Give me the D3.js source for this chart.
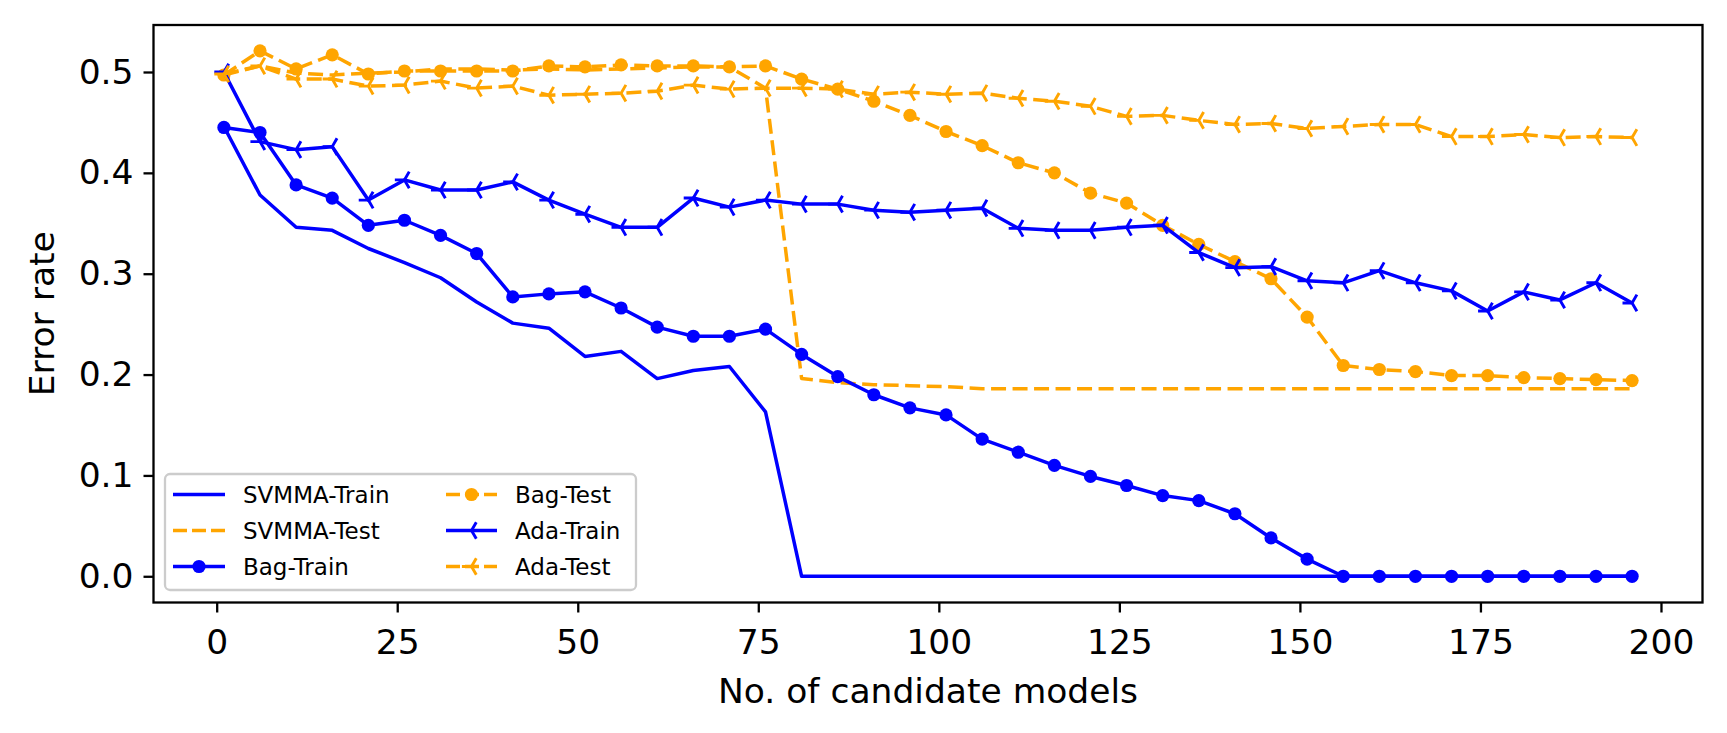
<!DOCTYPE html>
<html>
<head>
<meta charset="utf-8">
<script src="https://cdn.jsdelivr.net/npm/d3@7"></script>
<style>
  html, body { margin: 0; padding: 0; background: #fff; }
  svg text { font-family: "DejaVu Sans", sans-serif; fill: #000; }
</style>
</head>
<body>
<div id="main-chart"></div>
<script>
// number of candidate models
var models = [1, 6, 11, 16, 21, 26, 31, 36, 41, 46, 51, 56, 61, 66, 71, 76, 81, 86, 91, 96,
  101, 106, 111, 116, 121, 126, 131, 136, 141, 146, 151, 156, 161, 166, 171, 176, 181, 186, 191, 196];

var svmmaTrain = [0.446, 0.378, 0.346, 0.343, 0.325, 0.311, 0.296, 0.272, 0.251, 0.246,
  0.218, 0.223, 0.196, 0.204, 0.208, 0.163, 0, 0, 0, 0,
  0, 0, 0, 0, 0, 0, 0, 0, 0, 0,
  0, 0, 0, 0, 0, 0, 0, 0, 0, 0];
var svmmaTest = [0.497, 0.506, 0.499, 0.497, 0.499, 0.500, 0.503, 0.503, 0.502, 0.503,
  0.502, 0.503, 0.504, 0.505, 0.505, 0.484, 0.196, 0.192, 0.190, 0.189,
  0.188, 0.186, 0.186, 0.186, 0.186, 0.186, 0.186, 0.186, 0.186, 0.186,
  0.186, 0.186, 0.186, 0.186, 0.186, 0.186, 0.186, 0.186, 0.186, 0.186];
var bagTrain = [0.445, 0.440, 0.388, 0.375, 0.348, 0.353, 0.338, 0.320, 0.277, 0.280,
  0.282, 0.266, 0.247, 0.238, 0.238, 0.245, 0.220, 0.198, 0.180, 0.167,
  0.160, 0.136, 0.123, 0.110, 0.099, 0.090, 0.080, 0.075, 0.062, 0.038,
  0.017, 0, 0, 0, 0, 0, 0, 0, 0, 0];
var bagTest = [0.497, 0.521, 0.503, 0.517, 0.498, 0.501, 0.501, 0.501, 0.501, 0.506,
  0.505, 0.507, 0.506, 0.506, 0.505, 0.506, 0.493, 0.483, 0.471, 0.457,
  0.441, 0.427, 0.410, 0.400, 0.380, 0.370, 0.348, 0.329, 0.312, 0.295,
  0.257, 0.209, 0.205, 0.203, 0.199, 0.199, 0.197, 0.196, 0.195, 0.194];
var adaTrain = [0.500, 0.431, 0.423, 0.426, 0.373, 0.393, 0.383, 0.383, 0.391, 0.373,
  0.359, 0.346, 0.346, 0.375, 0.366, 0.373, 0.369, 0.369, 0.363, 0.361,
  0.363, 0.365, 0.345, 0.343, 0.343, 0.346, 0.348, 0.321, 0.306, 0.307,
  0.293, 0.291, 0.303, 0.291, 0.283, 0.263, 0.282, 0.274, 0.291, 0.271];
var adaTest = [0.498, 0.506, 0.493, 0.493, 0.486, 0.487, 0.491, 0.484, 0.486, 0.477,
  0.478, 0.479, 0.481, 0.487, 0.483, 0.484, 0.484, 0.483, 0.478, 0.480,
  0.478, 0.479, 0.474, 0.471, 0.466, 0.456, 0.457, 0.452, 0.448, 0.449,
  0.444, 0.446, 0.448, 0.448, 0.436, 0.436, 0.438, 0.435, 0.436, 0.435];

var xTicks = [0, 25, 50, 75, 100, 125, 150, 175, 200];
var yTicks = [0.0, 0.1, 0.2, 0.3, 0.4, 0.5];

var seriesNames = ["SVMMA-Train", "SVMMA-Test", "Bag-Train", "Bag-Test", "Ada-Train", "Ada-Test"];
var seriesValues = [svmmaTrain, svmmaTest, bagTrain, bagTest, adaTrain, adaTest];

var BLUE = "#0000ff", ORANGE = "#ffa500";
var styles = [
  { color: BLUE, dash: null, marker: null },
  { color: ORANGE, dash: "15,6.5", marker: null },
  { color: BLUE, dash: null, marker: "dot" },
  { color: ORANGE, dash: "15,6.5", marker: "dot" },
  { color: BLUE, dash: null, marker: "tri" },
  { color: ORANGE, dash: "15,6.5", marker: "tri" }
];

var width = 1727, height = 733;
var box = { left: 153.5, right: 1702.5, top: 25, bottom: 602.5 };
var lineWidth = 3.5;
var fontSize = 34.5;

var svg = d3
  .select("#main-chart")
  .append("svg")
  .attr("width", width)
  .attr("height", height);

var x = d3.scaleLinear().domain([-8.75, 205.75]).range([box.left, box.right]);
var y = d3.scaleLinear().domain([-0.026, 0.5466]).range([box.bottom, box.top]);

// tri_left marker: spokes to the left, upper right and lower right
function triPath(L) {
  var a = L * 0.5, b = L * 0.866;
  return "M0,0L" + -L + ",0M0,0L" + a + "," + -b + "M0,0L" + a + "," + b;
}

function drawMarker(g, kind, color, cx, cy) {
  if (kind === "dot") {
    g.append("circle")
      .attr("cx", cx)
      .attr("cy", cy)
      .attr("r", 6.6)
      .attr("fill", color);
  } else if (kind === "tri") {
    g.append("path")
      .attr("d", triPath(9.6))
      .attr("transform", "translate(" + cx + "," + cy + ")")
      .attr("fill", "none")
      .attr("stroke", color)
      .attr("stroke-width", 2.9)
      .attr("stroke-linecap", "butt");
  }
}

// axes
var xAxis = svg
  .append("g")
  .attr("transform", "translate(0," + box.bottom + ")")
  .call(d3.axisBottom(x).tickValues(xTicks).tickSize(10).tickPadding(17).tickFormat(d3.format("d")));
var yAxis = svg
  .append("g")
  .attr("transform", "translate(" + box.left + ",0)")
  .call(d3.axisLeft(y).tickValues(yTicks).tickSize(10).tickPadding(10).tickFormat(d3.format(".1f")));

[xAxis, yAxis].forEach(function(ax) {
  ax.select(".domain").remove();
  ax.selectAll(".tick line").attr("stroke", "#000").attr("stroke-width", 2.3);
  ax.selectAll(".tick text")
    .style("font-family", "DejaVu Sans")
    .style("font-size", fontSize + "px")
    .attr("fill", "#000");
});

// series
var plot = svg.append("g");
var line = d3
  .line()
  .x(function(d) { return x(d[0]); })
  .y(function(d) { return y(d[1]); });

seriesValues.forEach(function(vals, i) {
  var st = styles[i];
  var pts = models.map(function(m, j) { return [m, vals[j]]; });
  plot.append("path")
    .datum(pts)
    .attr("d", line)
    .attr("fill", "none")
    .attr("stroke", st.color)
    .attr("stroke-width", lineWidth)
    .attr("stroke-dasharray", st.dash)
    .attr("stroke-linejoin", "round");
  if (st.marker) {
    var mg = plot.append("g");
    pts.forEach(function(p) {
      drawMarker(mg, st.marker, st.color, x(p[0]), y(p[1]));
    });
  }
});

// frame
svg.append("rect")
  .attr("x", box.left)
  .attr("y", box.top)
  .attr("width", box.right - box.left)
  .attr("height", box.bottom - box.top)
  .attr("fill", "none")
  .attr("stroke", "#000")
  .attr("stroke-width", 2.3);

// labels
svg.append("text")
  .attr("x", (box.left + box.right) / 2)
  .attr("y", 703)
  .attr("text-anchor", "middle")
  .style("font-size", fontSize + "px")
  .text("No. of candidate models");

svg.append("text")
  .attr("transform", "translate(54," + (box.top + box.bottom) / 2 + ") rotate(-90)")
  .attr("text-anchor", "middle")
  .style("font-size", fontSize + "px")
  .text("Error rate");

// legend
var legend = svg.append("g");
legend.append("rect")
  .attr("x", 165)
  .attr("y", 474)
  .attr("width", 471)
  .attr("height", 116)
  .attr("rx", 5)
  .attr("fill", "#fff")
  .attr("fill-opacity", 0.8)
  .attr("stroke", "#cccccc")
  .attr("stroke-width", 2.3);

var rowY = [494.5, 530.5, 566.5];
var colX = [{ h0: 173, h1: 225, t: 243 }, { h0: 446, h1: 497, t: 515 }];

seriesNames.forEach(function(name, i) {
  var st = styles[i];
  var col = colX[Math.floor(i / 3)];
  var ry = rowY[i % 3];
  legend.append("line")
    .attr("x1", col.h0)
    .attr("x2", col.h1)
    .attr("y1", ry)
    .attr("y2", ry)
    .attr("stroke", st.color)
    .attr("stroke-width", lineWidth)
    .attr("stroke-dasharray", st.dash ? "14,5" : null);
  if (st.marker) {
    drawMarker(legend, st.marker, st.color, (col.h0 + col.h1) / 2, ry);
  }
  legend.append("text")
    .attr("x", col.t)
    .attr("y", ry + 8.5)
    .style("font-size", "23px")
    .text(name);
});
</script>
</body>
</html>
